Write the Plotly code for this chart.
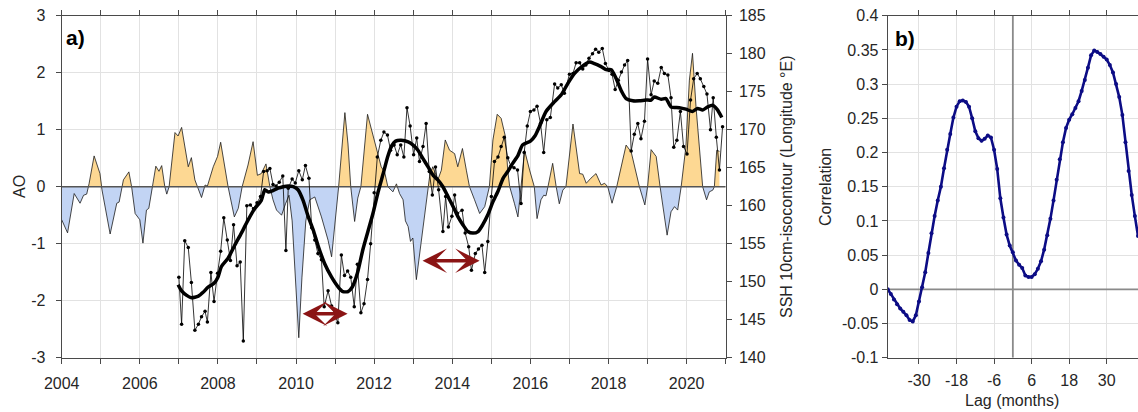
import plotly.graph_objects as go

# ---- Arctic Oscillation index (decimal year, value) ----
ao_time = [2004.00, 2004.15, 2004.32, 2004.47, 2004.56, 2004.64, 2004.70, 2004.83, 2004.98, 2005.03,
           2005.24, 2005.41, 2005.47, 2005.58, 2005.72, 2005.79, 2005.88, 2006.00, 2006.08, 2006.17,
           2006.23, 2006.33, 2006.41, 2006.49, 2006.56, 2006.64, 2006.69, 2006.75, 2006.90, 2006.98,
           2007.07, 2007.24, 2007.32, 2007.41, 2007.58, 2007.67, 2007.73, 2007.88, 2007.99, 2008.07,
           2008.26, 2008.42, 2008.52, 2008.62, 2008.77, 2008.90, 2009.01, 2009.11, 2009.23, 2009.33,
           2009.41, 2009.50, 2009.63, 2009.73, 2009.82, 2009.90, 2010.00, 2010.07, 2010.15, 2010.25,
           2010.35, 2010.48, 2010.65, 2010.82, 2010.91, 2010.99, 2011.09, 2011.25, 2011.33, 2011.40,
           2011.50, 2011.58, 2011.66, 2011.83, 2011.93, 2012.01, 2012.10, 2012.18, 2012.27, 2012.35,
           2012.48, 2012.57, 2012.65, 2012.74, 2012.80, 2012.87, 2012.93, 2012.99, 2013.08, 2013.21,
           2013.29, 2013.38, 2013.42, 2013.50, 2013.63, 2013.72, 2013.82, 2013.93, 2014.06, 2014.14,
           2014.26, 2014.36, 2014.44, 2014.57, 2014.70, 2014.83, 2014.95, 2015.04, 2015.15, 2015.25,
           2015.36, 2015.42, 2015.47, 2015.59, 2015.68, 2015.76, 2015.85, 2015.98, 2016.10, 2016.17,
           2016.27, 2016.34, 2016.40, 2016.45, 2016.57, 2016.66, 2016.74, 2016.83, 2016.91, 2017.09,
           2017.26, 2017.34, 2017.43, 2017.55, 2017.68, 2017.81, 2017.90, 2017.98, 2018.09, 2018.21,
           2018.28, 2018.45, 2018.58, 2018.71, 2018.79, 2018.93, 2019.00, 2019.09, 2019.22, 2019.32,
           2019.40, 2019.50, 2019.60, 2019.69, 2019.77, 2019.86, 2019.98, 2020.07, 2020.15, 2020.24,
           2020.41, 2020.51, 2020.58, 2020.67, 2020.71, 2020.77, 2020.84]
ao_value = [-0.58, -0.81, -0.12, -0.29, -0.15, -0.13, 0.05, 0.54, 0.23, -0.05,
            -0.83, -0.29, -0.27, 0.12, 0.26, 0.00, -0.47, -0.58, -0.99, -0.41,
            -0.38, 0.00, 0.36, 0.27, 0.37, 0.00, -0.13, 0.00, 0.95, 0.89,
            1.04, 0.35, 0.51, 0.12, -0.19, 0.03, 0.01, 0.35, 0.53, 0.78,
            0.00, -0.53, -0.38, 0.00, 0.38, 0.79, 0.20, 0.23, 0.40, 0.00,
            -0.23, -0.41, -0.50, -0.30, -0.15, -0.60, -1.80, -2.65, -1.60, -0.60,
            -0.23, -0.18, -0.53, -0.94, -1.23, -0.70, 0.00, 1.30, 0.75, 0.00,
            -0.61, -0.20, 0.00, 1.27, 1.00, 0.82, 0.58, 0.35, 0.25, 0.00,
            -0.09, 0.05, -0.12, -0.23, -0.60, -0.70, -0.96, -0.90, -1.63, -0.94,
            -0.53, 0.00, 0.18, 0.35, 0.12, 0.29, 0.82, 0.64, 0.58, 0.35,
            0.67, 0.29, 0.00, -0.23, -0.47, -0.35, 0.00, 0.82, 1.27, 1.20,
            0.88, 0.29, 0.00, -0.29, -0.53, 0.00, 0.64, 0.29, 0.00, -0.56,
            -0.23, -0.15, -0.16, 0.00, 0.41, 0.00, -0.30, -0.06, 0.00, 1.10,
            0.23, 0.22, 0.06, 0.15, 0.23, 0.03, 0.06, 0.00, -0.29, 0.00,
            0.23, 0.73, 0.61, 0.23, 0.00, -0.32, 0.00, 0.65, 0.53, 0.00,
            -0.35, -0.85, -0.44, -0.35, -0.41, 0.00, 0.70, 1.87, 2.34, 1.40,
            0.00, -0.23, -0.09, -0.06, 0.00, 0.64, 0.62]

# ---- SSH 10 cm isocontour position (degrees E), monthly ----
ssh_time = [2007.00, 2007.07, 2007.15, 2007.24, 2007.32, 2007.41, 2007.50, 2007.58, 2007.67, 2007.73,
            2007.82, 2007.90, 2007.99, 2008.07, 2008.15, 2008.24, 2008.32, 2008.40, 2008.49, 2008.57,
            2008.65, 2008.74, 2008.83, 2008.91, 2009.00, 2009.09, 2009.17, 2009.26, 2009.33, 2009.41,
            2009.49, 2009.57, 2009.66, 2009.74, 2009.80, 2009.90, 2009.98, 2010.07, 2010.16, 2010.24,
            2010.33, 2010.40, 2010.48, 2010.56, 2010.65, 2010.72, 2010.82, 2010.91, 2011.07, 2011.16,
            2011.24, 2011.32, 2011.40, 2011.49, 2011.57, 2011.66, 2011.74, 2011.83, 2011.91, 2012.00,
            2012.08, 2012.17, 2012.25, 2012.34, 2012.42, 2012.51, 2012.59, 2012.68, 2012.76, 2012.84,
            2012.92, 2013.01, 2013.09, 2013.16, 2013.25, 2013.33, 2013.41, 2013.49, 2013.57, 2013.65,
            2013.76, 2013.83, 2013.90, 2013.99, 2014.06, 2014.13, 2014.25, 2014.33, 2014.42, 2014.49,
            2014.59, 2014.67, 2014.76, 2014.83, 2014.91, 2015.00, 2015.08, 2015.17, 2015.25, 2015.33,
            2015.42, 2015.50, 2015.58, 2015.67, 2015.76, 2015.84, 2015.92, 2016.00, 2016.09, 2016.17,
            2016.26, 2016.34, 2016.42, 2016.51, 2016.62, 2016.70, 2016.79, 2016.87, 2017.00, 2017.09,
            2017.17, 2017.26, 2017.34, 2017.42, 2017.50, 2017.59, 2017.67, 2017.75, 2017.84, 2017.92,
            2018.01, 2018.09, 2018.17, 2018.25, 2018.33, 2018.41, 2018.49, 2018.58, 2018.66, 2018.75,
            2018.83, 2018.92, 2019.00, 2019.09, 2019.17, 2019.26, 2019.35, 2019.43, 2019.52, 2019.60,
            2019.67, 2019.75, 2019.84, 2019.92, 2020.01, 2020.10, 2020.18, 2020.27, 2020.35, 2020.44,
            2020.52, 2020.61, 2020.68, 2020.76, 2020.84, 2020.92]
ssh_lon = [150.6, 144.4, 155.4, 154.5, 149.9, 143.6, 144.4, 145.4, 146.1, 144.7,
           151.2, 147.4, 151.1, 154.0, 158.4, 155.5, 152.8, 157.5, 152.1, 152.6,
           142.2, 160.0, 160.1, 159.6, 160.4, 161.2, 164.5, 164.6, 164.9, 162.8,
           162.6, 163.1, 163.9, 154.1, 162.3, 163.5, 163.0, 164.6, 163.4, 165.3,
           163.6, 157.1, 155.5, 153.7, 152.9, 146.7, 148.8, 146.8, 144.6, 153.5,
           150.8, 151.4, 150.6, 146.7, 152.3, 145.9, 147.1, 150.3, 155.0, 161.7,
           166.4, 168.6, 169.7, 169.3, 167.3, 168.0, 166.7, 168.0, 166.4, 172.9,
           170.5, 166.7, 168.9, 165.8, 167.8, 170.8, 164.5, 161.4, 165.1, 162.1,
           156.6, 161.2, 157.2, 158.6, 161.4, 159.0, 159.4, 156.4, 154.6, 151.5,
           153.7, 154.3, 154.8, 151.2, 155.3, 161.2, 165.8, 166.4, 167.8, 169.0,
           166.3, 165.2, 165.0, 164.7, 160.3, 167.0, 170.5, 172.4, 172.6, 173.1,
           170.8, 167.0, 171.3, 171.6, 176.0, 175.5, 175.9, 174.8, 177.3, 177.4,
           178.8, 178.8, 178.0, 178.5, 179.4, 180.0, 180.6, 180.2, 180.7, 178.7,
           177.8, 177.3, 175.3, 176.5, 177.6, 178.5, 179.1, 167.2, 169.4, 170.8,
           168.8, 171.1, 179.3, 174.6, 176.4, 176.1, 178.2, 177.4, 177.2, 174.2,
           167.7, 168.6, 172.4, 167.8, 166.8, 173.9, 176.7, 177.4, 176.7, 175.7,
           174.7, 170.0, 174.2, 169.0, 164.7, 170.4]

# ---- smoothed SSH isocontour position ----
smooth_time = [2006.98, 2007.07, 2007.20, 2007.32, 2007.50, 2007.62, 2007.75, 2007.90, 2008.00, 2008.09,
               2008.26, 2008.43, 2008.60, 2008.77, 2008.94, 2009.11, 2009.20, 2009.29, 2009.41, 2009.54,
               2009.67, 2009.80, 2009.93, 2010.05, 2010.18, 2010.31, 2010.44, 2010.56, 2010.73, 2010.91,
               2011.08, 2011.20, 2011.33, 2011.44, 2011.57, 2011.71, 2011.84, 2011.97, 2012.10, 2012.23,
               2012.35, 2012.45, 2012.55, 2012.69, 2012.87, 2012.99, 2013.12, 2013.25, 2013.38, 2013.51,
               2013.63, 2013.76, 2013.89, 2014.02, 2014.14, 2014.27, 2014.40, 2014.53, 2014.66, 2014.78,
               2014.91, 2015.04, 2015.17, 2015.30, 2015.42, 2015.55, 2015.68, 2015.80, 2016.00, 2016.12,
               2016.23, 2016.40, 2016.62, 2016.79, 2016.96, 2017.13, 2017.34, 2017.51, 2017.64, 2017.81,
               2017.94, 2018.07, 2018.19, 2018.32, 2018.45, 2018.62, 2018.79, 2018.96, 2019.09, 2019.17,
               2019.35, 2019.47, 2019.60, 2019.81, 2019.98, 2020.15, 2020.28, 2020.41, 2020.54, 2020.67,
               2020.79, 2020.90]
smooth_lon = [149.6, 148.8, 148.2, 147.9, 148.1, 148.6, 149.3, 149.8, 150.6, 152.0,
              153.1, 154.8, 156.4, 158.1, 159.6, 160.7, 162.1, 161.8, 162.0, 162.3,
              162.5, 162.6, 162.5, 162.1, 160.7, 158.6, 156.8, 154.8, 152.4, 150.6,
              149.3, 148.7, 148.7, 149.3, 151.1, 154.2, 156.6, 159.0, 161.8, 164.2,
              166.5, 167.9, 168.5, 168.6, 168.4, 168.0, 167.3, 166.2, 165.1, 164.0,
              163.4, 162.5, 161.2, 159.9, 158.6, 157.5, 156.6, 156.4, 156.6, 157.5,
              158.8, 160.5, 161.9, 163.6, 164.5, 165.6, 166.6, 168.0, 168.5, 169.2,
              170.4, 172.4, 173.7, 174.6, 176.1, 177.4, 178.4, 178.9, 178.7, 178.3,
              177.9, 177.9, 176.8, 175.2, 174.1, 173.8, 173.8, 173.9, 173.9, 174.3,
              174.0, 174.1, 173.0, 172.9, 172.7, 172.4, 172.8, 172.6, 173.0, 173.2,
              172.6, 171.6]

# ---- lagged correlation AO vs SSH isocontour ----
lag_months = list(range(-40, 41))
correlation = [0.000, -0.007, -0.015, -0.022, -0.028, -0.033, -0.038, -0.045, -0.047, -0.038,
               -0.018, 0.003, 0.025, 0.053, 0.082, 0.107, 0.130, 0.150, 0.177, 0.204,
               0.227, 0.251, 0.267, 0.275, 0.276, 0.274, 0.267, 0.250, 0.231, 0.221,
               0.217, 0.220, 0.225, 0.222, 0.204, 0.176, 0.133, 0.105, 0.080, 0.064,
               0.054, 0.042, 0.036, 0.031, 0.020, 0.018, 0.018, 0.022, 0.030, 0.041,
               0.058, 0.079, 0.103, 0.130, 0.160, 0.190, 0.215, 0.236, 0.248, 0.256,
               0.265, 0.275, 0.290, 0.306, 0.324, 0.342, 0.349, 0.347, 0.344, 0.340,
               0.336, 0.328, 0.317, 0.300, 0.281, 0.255, 0.215, 0.173, 0.138, 0.107,
               0.078]

# ---- lag windows marked with arrows (start year, end year, AO level) ----
arrow_spans = [(2010.13, 2011.32, -2.23), (2013.20, 2014.70, -1.30)]

# ---- ticks ----
year_ticks = list(range(2004, 2022))
year_labels = [str(y) if y % 2 == 0 else "" for y in year_ticks]
ao_ticks = [-3, -2, -1, 0, 1, 2, 3]
ao_labels = ["-3", "-2", "-1", "0", "1", "2", "3"]
ssh_ticks = list(range(140, 186, 5))
lag_ticks = [-30, -18, -6, 6, 18, 30]
lag_labels = ["-30", "-18", "-6", "6", "18", "30"]
corr_ticks = [-0.1, -0.05, 0, 0.05, 0.1, 0.15, 0.2, 0.25, 0.3, 0.35, 0.4]
corr_labels = ["-0.1", "-0.05", "0", "0.05", "0.1", "0.15", "0.2", "0.25", "0.3", "0.35", "0.4"]

FONT = "Liberation Sans, Arial, Helvetica, sans-serif"
TXT = "#262626"
AXLINE = "#4a4a4a"
GRID = "#e2e2e2"
ORANGE = "#fdd893"
BLUE = "#c2d4f4"
W, H = 1138, 412


def split_signs(t, v):
    """Split a series into positive and negative parts, adding zero crossings."""
    tt, pos, neg = [], [], []
    for i in range(len(t)):
        if i > 0 and ((v[i - 1] < 0 < v[i]) or (v[i - 1] > 0 > v[i])):
            tc = t[i - 1] + (t[i] - t[i - 1]) * (-v[i - 1]) / (v[i] - v[i - 1])
            tt.append(tc); pos.append(0.0); neg.append(0.0)
        tt.append(t[i]); pos.append(max(v[i], 0.0)); neg.append(min(v[i], 0.0))
    return tt, pos, neg


fill_t, ao_pos, ao_neg = split_signs(ao_time, ao_value)

fig = go.Figure()

# panel a: AO shading
fig.add_trace(go.Scatter(x=fill_t, y=ao_pos, mode="lines", fill="tozeroy", fillcolor=ORANGE,
                         line=dict(width=0), xaxis="x", yaxis="y", hoverinfo="skip"))
fig.add_trace(go.Scatter(x=fill_t, y=ao_neg, mode="lines", fill="tozeroy", fillcolor=BLUE,
                         line=dict(width=0), xaxis="x", yaxis="y", hoverinfo="skip"))
fig.add_trace(go.Scatter(x=ao_time, y=ao_value, mode="lines", line=dict(color="#1a1a1a", width=0.8),
                         xaxis="x", yaxis="y"))
fig.add_trace(go.Scatter(x=[2004, 2021], y=[0, 0], mode="lines", line=dict(color="#555555", width=1.5),
                         xaxis="x", yaxis="y", hoverinfo="skip"))

# panel a: SSH isocontour
fig.add_trace(go.Scatter(x=ssh_time, y=ssh_lon, mode="lines+markers",
                         line=dict(color="black", width=0.8),
                         marker=dict(color="black", size=3.5),
                         xaxis="x", yaxis="y2"))
fig.add_trace(go.Scatter(x=smooth_time, y=smooth_lon, mode="lines",
                         line=dict(color="black", width=3.5, shape="spline", smoothing=0.6),
                         xaxis="x", yaxis="y2"))

# panel b: zero lines and correlation
fig.add_trace(go.Scatter(x=[-40, 40], y=[0, 0], mode="lines", line=dict(color="#8a8a8a", width=1.8),
                         xaxis="x2", yaxis="y3", hoverinfo="skip"))
fig.add_trace(go.Scatter(x=[0, 0], y=[-0.1, 0.4], mode="lines", line=dict(color="#8a8a8a", width=1.8),
                         xaxis="x2", yaxis="y3", hoverinfo="skip"))
fig.add_trace(go.Scatter(x=lag_months, y=correlation, mode="lines+markers",
                         line=dict(color="#0c0c85", width=2.6),
                         marker=dict(color="#0c0c85", size=4),
                         xaxis="x2", yaxis="y3"))

x_a = [61.7 / W, 725.7 / W]
x_b = [887.7 / W, 1.0]
y_dom = [1 - 357.7 / H, 1 - 15.7 / H]
tickfont = dict(family=FONT, size=16, color=TXT)

common = dict(showline=True, linecolor=AXLINE, linewidth=1, ticks="outside", ticklen=5,
              tickcolor=AXLINE, tickfont=tickfont, zeroline=False, gridcolor=GRID, gridwidth=1,
              automargin=False)

annotations = []
for t0, t1, lvl in arrow_spans:
    annotations.append(dict(x=t1, y=lvl, ax=t0, ay=lvl, xref="x", yref="y", axref="x", ayref="y",
                            text="", showarrow=True, arrowside="end+start",
                            arrowhead=3, startarrowhead=3, arrowsize=1.2, startarrowsize=1.2,
                            arrowwidth=3.4, arrowcolor="#8b1414"))

def label(text, x, y, size=16, bold=False, angle=0):
    return dict(text=f"<b>{text}</b>" if bold else text, x=x / W, y=1 - y / H,
                xref="paper", yref="paper", showarrow=False, textangle=angle,
                font=dict(family=FONT, size=size, color=TXT if not bold else "black"),
                xanchor="center", yanchor="middle")

annotations += [
    label("a)", 75, 38, size=21, bold=True),
    label("b)", 905, 39, size=21, bold=True),
    label("AO", 19, 187, angle=-90),
    label("SSH 10cm-isocontour (Longitude °E)", 786, 187, angle=-90),
    label("Correlation", 825, 187, angle=-90),
    label("Lag (months)", 1012, 400),
]

fig.update_layout(
    template="none",
    width=W, height=H, margin=dict(l=0, r=0, t=0, b=0, autoexpand=False),
    paper_bgcolor="white", plot_bgcolor="white", showlegend=False,
    xaxis=dict(domain=x_a, anchor="y", range=[2004, 2021], tickvals=year_ticks, ticktext=year_labels,
               mirror="ticks", showgrid=True, ticklabelstandoff=6, **common),
    yaxis=dict(domain=y_dom, anchor="x", range=[-3, 3], tickvals=ao_ticks, ticktext=ao_labels,
               showgrid=True, ticklabelstandoff=7, **common),
    yaxis2=dict(domain=y_dom, anchor="x", overlaying="y", side="right", range=[140, 185],
                tickvals=ssh_ticks, showgrid=False, ticklabelstandoff=4, **common),
    xaxis2=dict(domain=x_b, anchor="y3", range=[-40, 40], tickvals=lag_ticks, ticktext=lag_labels,
                mirror="ticks", showgrid=True, ticklabelstandoff=3, **common),
    yaxis3=dict(domain=y_dom, anchor="x2", range=[-0.1, 0.4], tickvals=corr_ticks, ticktext=corr_labels,
                mirror="ticks", showgrid=True, **common),
    annotations=annotations,
)

fig.write_html("out.html")
